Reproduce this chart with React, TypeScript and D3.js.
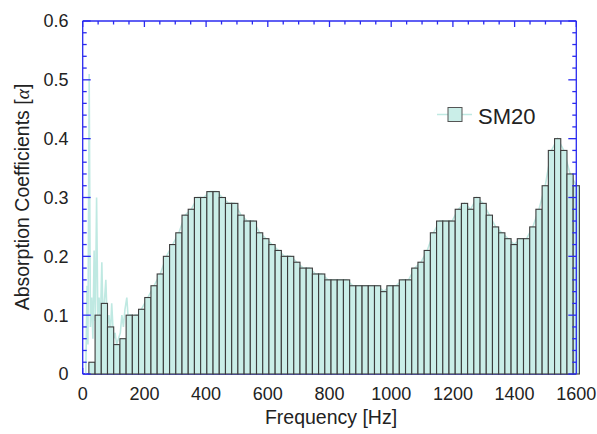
import React, { useEffect, useRef } from 'react'
import * as d3 from 'd3'

// 20 Hz-wide bins, first bin starts at ~20 Hz
const binStart = 20
const binEnd = 1610
const absorption = [
  0.02, 0.1, 0.12, 0.08, 0.05, 0.06, 0.1, 0.1, 0.11, 0.13, 0.15, 0.17, 0.2, 0.22, 0.24, 0.27, 0.28, 0.3,
  0.3, 0.31, 0.31, 0.3, 0.29, 0.29, 0.27, 0.26, 0.26,
  0.24, 0.23, 0.22, 0.21, 0.2, 0.2, 0.19, 0.18, 0.18, 0.17, 0.17, 0.16, 0.16, 0.16, 0.16,
  0.15, 0.15, 0.15, 0.15, 0.15, 0.14, 0.15, 0.15, 0.16, 0.16, 0.18, 0.19, 0.21, 0.24, 0.26, 0.26,
  0.26, 0.28, 0.29, 0.28, 0.3, 0.29, 0.27, 0.25, 0.24, 0.23, 0.22, 0.23, 0.23, 0.25, 0.28, 0.32,
  0.38, 0.4, 0.38, 0.34, 0.32,
]

// raw (fine) trace below 200 Hz, [Hz, alpha]
const rawLow = [
  [10, 0.0], [14, 0.15], [17, 0.05], [21, 0.51], [25, 0.08], [29, 0.13], [33, 0.06], [37, 0.21],
  [41, 0.09], [45, 0.3], [49, 0.1], [53, 0.13], [57, 0.08], [62, 0.19], [66, 0.09], [70, 0.12],
  [75, 0.16], [80, 0.08], [85, 0.1], [90, 0.07], [94, 0.12], [100, 0.06], [105, 0.07], [110, 0.05],
  [116, 0.06], [122, 0.07], [127, 0.1], [132, 0.08], [137, 0.11], [143, 0.13], [148, 0.09],
  [153, 0.1], [159, 0.1], [165, 0.09], [170, 0.1], [180, 0.1], [190, 0.11],
]

const xTicks = [0, 200, 400, 600, 800, 1000, 1200, 1400, 1600]
const yTicks = [0, 0.1, 0.2, 0.3, 0.4, 0.5, 0.6]

const W = 597
const H = 434
const blue = '#2a2af0'
const fill = '#caeee8'
const trace = '#bfe9e2'
const font = '"Liberation Sans", Arial, sans-serif'

export default function App() {
  const ref = useRef<SVGSVGElement>(null)

  useEffect(() => {
    const svg = d3.select(ref.current)
    svg.selectAll('*').remove()

    const x = d3.scaleLinear().domain([0, 1600]).range([82.7, 576.3])
    const y = d3.scaleLinear().domain([0, 0.6]).range([374, 21])
    const band = d3
      .scaleBand<number>()
      .domain(d3.range(absorption.length))
      .range([x(binStart), x(binEnd)])
      .paddingInner(0)
    const bw = band.bandwidth()

    // bottom axis line + ticks (bars cover them)
    const g0 = svg.append('g').attr('stroke', blue).attr('stroke-width', 1.3)
    g0.append('line').attr('x1', x(0)).attr('x2', x(1600)).attr('y1', y(0)).attr('y2', y(0))
    d3.range(0, 1601, 50).forEach(v => {
      const len = v % 200 === 0 ? 6 : 3.5
      g0.append('line').attr('x1', x(v)).attr('x2', x(v)).attr('y1', y(0)).attr('y2', y(0) - len)
      g0.append('line').attr('x1', x(v)).attr('x2', x(v)).attr('y1', y(0.6)).attr('y2', y(0.6) + len)
    })

    // raw trace
    const tracePts = rawLow.concat(
      absorption
        .map((v, i) => [x.invert((band(i) as number) + bw / 2), v])
        .filter(d => d[0] > 195)
    )
    const line = d3
      .line<number[]>()
      .x(d => x(d[0]))
      .y(d => y(d[1]))
    svg
      .append('path')
      .attr('d', line(tracePts))
      .attr('fill', 'none')
      .attr('stroke', trace)
      .attr('stroke-width', 1.6)

    // bars
    svg
      .append('g')
      .selectAll('rect')
      .data(absorption)
      .enter()
      .append('rect')
      .attr('x', (d, i) => band(i) as number)
      .attr('width', bw)
      .attr('y', d => y(d))
      .attr('height', d => y(0) - y(d))
      .attr('fill', fill)
      .attr('stroke', '#3c3c3c')
      .attr('stroke-width', 1.1)

    // frame + y ticks
    const g1 = svg.append('g').attr('stroke', blue).attr('stroke-width', 1.3)
    g1.append('line').attr('x1', x(0)).attr('x2', x(0)).attr('y1', y(0)).attr('y2', y(0.6))
    g1.append('line').attr('x1', x(1600)).attr('x2', x(1600)).attr('y1', y(0)).attr('y2', y(0.6))
    g1.append('line').attr('x1', x(0)).attr('x2', x(1600)).attr('y1', y(0.6)).attr('y2', y(0.6))
    d3.range(0, 31).forEach(k => {
      const v = k * 0.02
      const len = k % 5 === 0 ? 8 : 4
      g1.append('line').attr('x1', x(0)).attr('x2', x(0) + len).attr('y1', y(v)).attr('y2', y(v))
      g1.append('line').attr('x1', x(1600)).attr('x2', x(1600) - len).attr('y1', y(v)).attr('y2', y(v))
    })

    // tick labels
    svg
      .append('g')
      .selectAll('text')
      .data(xTicks)
      .enter()
      .append('text')
      .attr('x', d => x(d))
      .attr('y', 400)
      .attr('text-anchor', 'middle')
      .attr('font-family', font)
      .attr('font-size', 18)
      .attr('fill', '#222')
      .text(d => d)
    svg
      .append('g')
      .selectAll('text')
      .data(yTicks)
      .enter()
      .append('text')
      .attr('x', 68.5)
      .attr('y', d => y(d))
      .attr('dy', '0.36em')
      .attr('text-anchor', 'end')
      .attr('font-family', font)
      .attr('font-size', 18)
      .attr('fill', '#222')
      .text(d => (d === 0 ? '0' : d.toFixed(1)))

    // axis titles
    svg
      .append('text')
      .attr('x', 331)
      .attr('y', 424)
      .attr('text-anchor', 'middle')
      .attr('font-family', font)
      .attr('font-size', 19.5)
      .attr('fill', '#222')
      .text('Frequency [Hz]')
    const yt = svg
      .append('text')
      .attr('transform', 'translate(29,197) rotate(-90)')
      .attr('text-anchor', 'middle')
      .attr('font-family', font)
      .attr('font-size', 19.5)
      .attr('fill', '#222')
    yt.append('tspan').text('Absorption Coefficients [')
    yt.append('tspan').attr('font-family', '"Liberation Serif", serif').attr('font-style', 'italic').text('α')
    yt.append('tspan').text(']')

    // legend
    svg
      .append('line')
      .attr('x1', 437)
      .attr('x2', 472)
      .attr('y1', 114.5)
      .attr('y2', 114.5)
      .attr('stroke', trace)
      .attr('stroke-width', 1.6)
    svg
      .append('rect')
      .attr('x', 448)
      .attr('y', 107.5)
      .attr('width', 14)
      .attr('height', 14)
      .attr('fill', fill)
      .attr('stroke', '#555')
      .attr('stroke-width', 1)
    svg
      .append('text')
      .attr('x', 478)
      .attr('y', 124)
      .attr('font-family', font)
      .attr('font-size', 22)
      .attr('fill', '#222')
      .text('SM20')
  }, [])

  return (
    <svg
      ref={ref}
      width={W}
      height={H}
      style={{ position: 'absolute', left: 0, top: 0, background: '#fff' }}
    />
  )
}
